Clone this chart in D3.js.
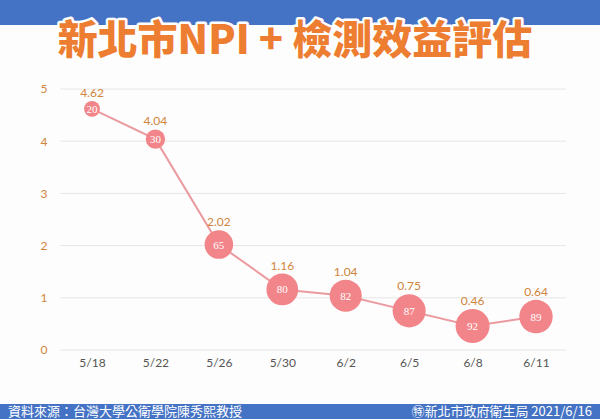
<!DOCTYPE html>
<html>
<head>
<meta charset="utf-8">
<script src="https://cdn.jsdelivr.net/npm/d3@7"></script>
<style>
  body { margin: 0; background: #fdfdfd; overflow: hidden; }
  svg { display: block; }
</style>
</head>
<body>
<svg id="chart"></svg>
<script>
const WIDTH = 600;
const HEIGHT = 419;

// data
const dates = ['5/18', '5/22', '5/26', '5/30', '6/2', '6/5', '6/8', '6/11'];
const npiValues = [4.62, 4.04, 2.02, 1.16, 1.04, 0.75, 0.46, 0.64];
const benefitScores = [20, 30, 65, 80, 82, 87, 92, 89];
const yTicks = [0, 1, 2, 3, 4, 5];

window.onload = function(){
    makeChart();
};

function makeChart(){
    let svg = d3.select('#chart')
        .attr('width', WIDTH)
        .attr('height', HEIGHT);

    // header / footer bands
    svg.append('rect')
        .attr('x', 0).attr('y', 0)
        .attr('width', WIDTH).attr('height', 25)
        .style('fill', '#4472c4');

    svg.append('rect')
        .attr('x', 0).attr('y', 404)
        .attr('width', WIDTH).attr('height', HEIGHT - 404)
        .style('fill', '#4472c4');

    svg.append('text')
        .attr('x', 295).attr('y', 54)
        .attr('text-anchor', 'middle')
        .style('font-family', '"Noto Sans CJK TC", "Noto Sans CJK SC", sans-serif')
        .style('font-weight', 900)
        .style('font-size', '40px')
        .style('fill', '#ed7d31')
        .style('stroke', 'white')
        .style('stroke-width', 5)
        .style('stroke-linejoin', 'round')
        .style('paint-order', 'stroke')
        .text('新北市NPI + 檢測效益評估');

    const footFont = '"Noto Sans CJK TC", sans-serif';
    svg.append('text')
        .attr('x', 8).attr('y', 416)
        .style('font-family', footFont)
        .style('font-size', '13px')
        .style('fill', 'white')
        .text('資料來源：台灣大學公衛學院陳秀熙教授');

    svg.append('text')
        .attr('x', 592).attr('y', 416)
        .attr('text-anchor', 'end')
        .style('font-family', footFont)
        .style('font-size', '13px')
        .style('fill', 'white')
        .text('㊕新北市政府衛生局 2021/6/16');

    // scales
    const x = d3.scalePoint()
        .domain(dates)
        .range([92, 536]);

    const y = d3.scaleLinear()
        .domain([0, 5])
        .range([350, 89]);

    const r = d3.scaleSqrt()
        .domain([0, 92])
        .range([0, 17]);

    // grid
    svg.append('g')
        .selectAll('line')
        .data(yTicks)
        .enter()
        .append('line')
        .attr('x1', 60).attr('x2', 566)
        .attr('y1', d => y(d)).attr('y2', d => y(d))
        .style('stroke', '#e6e6e6')
        .style('stroke-width', 1);

    // y axis
    const yAxis = svg.append('g')
        .attr('transform', 'translate(44,0)')
        .call(d3.axisLeft(y).tickValues(yTicks).tickFormat(d3.format('d')).tickSize(0).tickPadding(0));
    yAxis.select('.domain').remove();
    yAxis.selectAll('text')
        .attr('text-anchor', 'middle')
        .style('font-family', 'Lato, sans-serif')
        .style('font-size', '12px')
        .style('fill', '#d0843c');

    // x axis
    const xAxis = svg.append('g')
        .attr('transform', 'translate(0,358)')
        .call(d3.axisBottom(x).tickSize(0).tickPadding(0));
    xAxis.select('.domain').remove();
    xAxis.selectAll('text')
        .style('font-family', 'Lato, sans-serif')
        .style('font-size', '12px')
        .style('fill', '#555');

    const points = dates.map((d, i) => ({date: d, value: npiValues[i], score: benefitScores[i]}));

    const line = d3.line()
        .x(d => x(d.date))
        .y(d => y(d.value));

    svg.append('path')
        .datum(points)
        .attr('d', line)
        .style('fill', 'none')
        .style('stroke', '#eb9aa0')
        .style('stroke-width', 2);

    let dots = svg.append('g')
        .selectAll('g')
        .data(points)
        .enter()
        .append('g')
        .attr('transform', d => 'translate(' + x(d.date) + ',' + y(d.value) + ')');

    dots.append('circle')
        .attr('r', d => r(d.score))
        .style('fill', '#f2858a');

    dots.append('text')
        .attr('y', 4)
        .attr('text-anchor', 'middle')
        .style('font-family', '"Liberation Serif", serif')
        .style('font-size', '11px')
        .style('fill', 'white')
        .text(d => d.score);

    dots.append('text')
        .attr('y', d => -r(d.score) - 4)
        .attr('text-anchor', 'middle')
        .style('font-family', 'Lato, sans-serif')
        .style('font-size', '12px')
        .style('fill', '#d0843c')
        .text(d => d.value.toFixed(2));
}
</script>
</body>
</html>
